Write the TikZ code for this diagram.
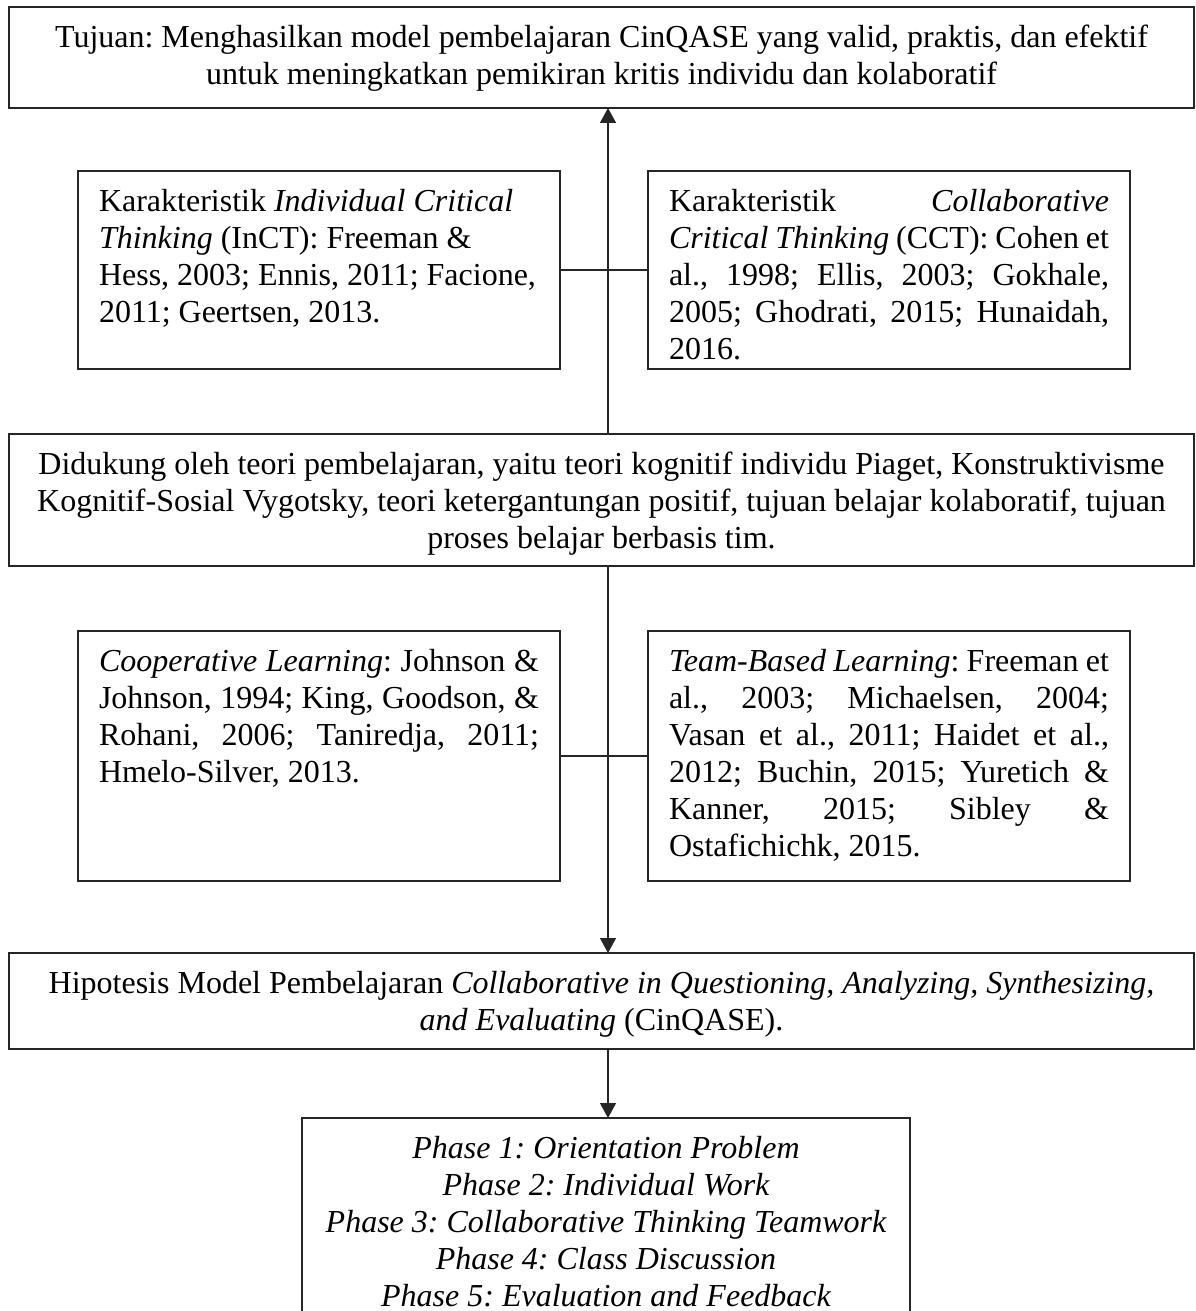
\documentclass[tikz,border=0pt]{standalone}
\usepackage{fontspec}
\setmainfont{Liberation Serif}
\usetikzlibrary{arrows.meta}

\newcommand{\fillline}[1]{\makebox[\linewidth][s]{#1}\\}

\begin{document}
\begin{tikzpicture}[x=1pt,y=-1pt,
  frame/.style={draw=black!85,line width=1.4pt,inner xsep=21pt,inner ysep=0pt,outer sep=0pt,
    anchor=north west,font=\fontsize{32}{37}\selectfont\frenchspacing},
  link/.style={draw=black!85,line width=1.4pt},
  arr/.style={link,-{Triangle[length=15pt,width=16pt]}}]
\useasboundingbox (0,0) rectangle (1195,1311);

\node[frame,inner xsep=5pt] (goal) at (9,7) {\parbox[c][101pt][t]{1175pt}{\centering\rule{0pt}{41pt}Tujuan: Menghasilkan model pembelajaran CinQASE yang valid, praktis, dan efektif\\
untuk meningkatkan pemikiran kritis individu dan kolaboratif}};

\node[frame] (ict) at (78,171) {\parbox[c][198pt][t]{440pt}{\raggedright\rule{0pt}{40pt}Karakteristik \textit{Individual Critical}\\
\textit{Thinking} (InCT): Freeman \&\\
Hess, 2003; Ennis, 2011; Facione,\\
2011; Geertsen, 2013.}};
\node[frame] (cct) at (648,171) {\parbox[c][198pt][t]{440pt}{\rule{0pt}{40pt}\fillline{Karakteristik \textit{Collaborative}}
\fillline{\textit{Critical Thinking} (CCT): Cohen et}
\fillline{al., 1998; Ellis, 2003; Gokhale,}
\fillline{2005; Ghodrati, 2015; Hunaidah,}
2016.}};

\node[frame,inner xsep=5pt] (support) at (9,434) {\parbox[c][132pt][t]{1175pt}{\centering\rule{0pt}{40pt}Didukung oleh teori pembelajaran, yaitu teori kognitif individu Piaget, Konstruktivisme\\
Kognitif-Sosial Vygotsky, teori ketergantungan positif, tujuan belajar kolaboratif, tujuan\\
proses belajar berbasis tim.}};

\node[frame] (cl) at (78,631) {\parbox[c][250pt][t]{440pt}{\rule{0pt}{40pt}\fillline{\textit{Cooperative Learning}: Johnson \&}
\fillline{Johnson, 1994; King, Goodson, \&}
\fillline{Rohani, 2006; Taniredja, 2011;}
Hmelo-Silver, 2013.}};
\node[frame] (tbl) at (648,631) {\parbox[c][250pt][t]{440pt}{\rule{0pt}{40pt}\fillline{\textit{Team-Based Learning}: Freeman et}
\fillline{al., 2003; Michaelsen, 2004;}
\fillline{Vasan et al., 2011; Haidet et al.,}
\fillline{2012; Buchin, 2015; Yuretich \&}
\fillline{Kanner, 2015; Sibley \&}
Ostafichichk, 2015.}};

\node[frame,inner xsep=5pt] (hyp) at (9,953) {\parbox[c][96pt][t]{1175pt}{\centering\rule{0pt}{40pt}Hipotesis Model Pembelajaran \textit{Collaborative in Questioning, Analyzing, Synthesizing,}\\
\textit{and Evaluating} (CinQASE).}};

\node[frame] (phases) at (302,1118) {\parbox[c][200pt][t]{566pt}{\centering\itshape\rule{0pt}{40pt}Phase 1: Orientation Problem\\
Phase 2: Individual Work\\
Phase 3: Collaborative Thinking Teamwork\\
Phase 4: Class Discussion\\
Phase 5: Evaluation and Feedback}};

% main axis
\coordinate (axis) at (608,0);
\draw[arr] (support.north -| axis) -- (goal.south -| axis);
\draw[link] (ict.east) -- (cct.west);
\draw[arr] (support.south -| axis) -- (hyp.north -| axis);
\draw[link] (cl.east) -- (tbl.west);
\draw[arr] (hyp.south -| axis) -- (phases.north -| axis);
\end{tikzpicture}
\end{document}
